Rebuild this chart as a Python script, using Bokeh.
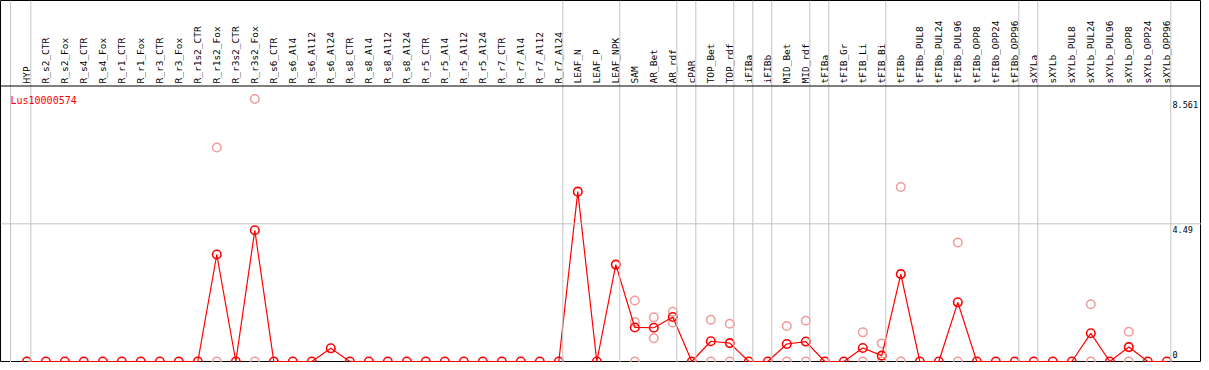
import math
from bokeh.plotting import figure
from bokeh.models import Range1d, Span, Label
from bokeh.embed import file_html
from bokeh.resources import INLINE
from bokeh.core.properties import value

gene = "Lus10000574"

categories = [
    "HYP",
    "R_s2_CTR", "R_s2_Fox", "R_s4_CTR", "R_s4_Fox", "R_r1_CTR", "R_r1_Fox",
    "R_r3_CTR", "R_r3_Fox", "R_r1s2_CTR", "R_r1s2_Fox", "R_r3s2_CTR", "R_r3s2_Fox",
    "R_s6_CTR", "R_s6_Al4", "R_s6_Al12", "R_s6_Al24",
    "R_s8_CTR", "R_s8_Al4", "R_s8_Al12", "R_s8_Al24",
    "R_r5_CTR", "R_r5_Al4", "R_r5_Al12", "R_r5_Al24",
    "R_r7_CTR", "R_r7_Al4", "R_r7_Al12", "R_r7_Al24",
    "LEAF_N", "LEAF_P", "LEAF_NPK",
    "SAM", "AR_Bet", "AR_rdf",
    "cPAR", "TOP_Bet", "TOP_rdf",
    "iFIBa", "iFIBb",
    "MID_Bet", "MID_rdf",
    "tFIBa", "tFIB_Gr", "tFIB_Li", "tFIB_Bi",
    "tFIBb", "tFIBb_PUL8", "tFIBb_PUL24", "tFIBb_PUL96", "tFIBb_OPP8", "tFIBb_OPP24", "tFIBb_OPP96",
    "sXYLa",
    "sXYLb", "sXYLb_PUL8", "sXYLb_PUL24", "sXYLb_PUL96", "sXYLb_OPP8", "sXYLb_OPP24", "sXYLb_OPP96",
]

mean_values = [
    0,
    0, 0, 0, 0, 0, 0,
    0, 0, 0, 3.49, 0, 4.28,
    0, 0, 0, 0.43,
    0, 0, 0, 0,
    0, 0, 0, 0,
    0, 0, 0, 0,
    5.54, 0, 3.16,
    1.11, 1.10, 1.45,
    0, 0.66, 0.60,
    0, 0,
    0.57, 0.65,
    0, 0, 0.44, 0.19,
    2.85, 0, 0, 1.93, 0, 0, 0,
    0,
    0, 0, 0.92, 0, 0.47, 0, 0,
]

rep_categories = [
    "R_r1s2_Fox", "R_r1s2_Fox",
    "R_r3s2_Fox", "R_r3s2_Fox",
    "SAM", "SAM", "SAM",
    "AR_Bet", "AR_Bet",
    "AR_rdf", "AR_rdf",
    "TOP_Bet", "TOP_Bet",
    "TOP_rdf", "TOP_rdf",
    "MID_Bet", "MID_Bet",
    "MID_rdf", "MID_rdf",
    "tFIB_Li", "tFIB_Li",
    "tFIB_Bi", "tFIB_Bi",
    "tFIBb", "tFIBb",
    "tFIBb_PUL96", "tFIBb_PUL96",
    "sXYLb_PUL24", "sXYLb_PUL24",
    "sXYLb_OPP8", "sXYLb_OPP8",
]
rep_values = [
    6.98, 0,
    8.561, 0,
    1.99, 1.29, 0,
    1.44, 0.76,
    1.62, 1.27,
    1.36, 0,
    1.23, 0,
    1.16, 0,
    1.33, 0,
    0.95, 0,
    0.59, 0,
    5.69, 0,
    3.88, 0,
    1.87, 0,
    0.97, 0,
]

group_ends = ["HYP", "R_r7_Al24", "LEAF_NPK", "AR_rdf", "cPAR", "TOP_rdf", "iFIBa",
              "iFIBb", "MID_rdf", "tFIBa", "tFIB_Bi", "tFIBb_OPP96", "sXYLa", "sXYLb_OPP96"]

y_ticks = [0, 4.49, 8.561]
y_tick_labels = ["0", "4.49", "8.561"]

# ---- layout constants (pixels, frame coordinates from top-left) ----
W, H = 1201, 362
STEP = 19.0
X0 = 26.3          # px of first category
ZERO_PX = 361.0    # px (from top) of value 0
TOP_PX = 98.5      # px (from top) of top tick value
K = (ZERO_PX - TOP_PX) / y_ticks[-1]
MONO_NAME = "DejaVu Sans Mono"
MONO = value(MONO_NAME)


def ydata(px_from_top):
    return (ZERO_PX - px_from_top) / K


idx = {c: i for i, c in enumerate(categories)}
xs = list(range(len(categories)))

p = figure(width=W, height=H, output_backend="svg", toolbar_location=None,
           x_range=Range1d(-X0 / STEP, (W - X0) / STEP),
           y_range=Range1d(ydata(H), ydata(0)),
           x_axis_location=None, y_axis_location=None, min_border=0)
p.grid.visible = False
p.outline_line_color = "black"
p.outline_line_width = 1
p.background_fill_color = "white"
p.border_fill_color = "white"

grey = "#c4c4c4"
# left guide line
p.add_layout(Span(location=(10 - X0) / STEP, dimension="height", line_color=grey, line_width=1))
for g in group_ends:
    p.add_layout(Span(location=idx[g] + 4 / STEP, dimension="height", line_color=grey, line_width=1))
# mid gridline
p.add_layout(Span(location=y_ticks[1], dimension="width", line_color=grey, line_width=1))
# header separator
p.add_layout(Span(location=ydata(85.5), dimension="width", line_color="black", line_width=1.2))

# category labels
p.text(x=xs, y=[ydata(83)] * len(xs), text=categories, angle=math.pi / 2,
       text_align="left", text_baseline="middle", text_font=MONO,
       text_font_size="9.5px", text_color="black")

# replicates
p.scatter(x=[idx[c] for c in rep_categories], y=rep_values, marker="circle", size=8.5,
          line_color="#f09a9a", fill_color=None, line_width=1.5)

# mean line + markers
p.line(x=xs, y=mean_values, line_color="red", line_width=1.2)
p.scatter(x=xs, y=mean_values, marker="circle", size=8.5, line_color="red",
          fill_color=None, line_width=1.6)

# right tick labels
for v, t in zip(y_ticks, y_tick_labels):
    if v == 0:
        lab = Label(x=1172, y=v, x_units="screen", y_units="data", text=t,
                    text_baseline="bottom", y_offset=4, text_font=MONO_NAME,
                    text_font_size="8.5px", text_color="black")
    else:
        lab = Label(x=1172, y=v, x_units="screen", y_units="data", text=t,
                    text_baseline="top", y_offset=-2, text_font=MONO_NAME,
                    text_font_size="8.5px", text_color="black")
    p.add_layout(lab)

# gene name
p.add_layout(Label(x=10, y=H - 100, x_units="screen", y_units="screen", text=gene,
                   text_baseline="alphabetic", text_font=MONO_NAME, text_font_size="10px",
                   text_color="red"))

open("out.html", "w").write(file_html(p, INLINE))
